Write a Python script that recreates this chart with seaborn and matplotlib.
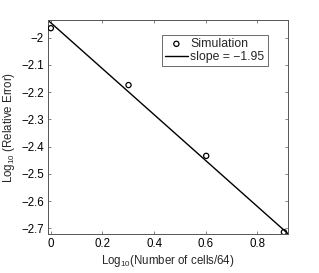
import numpy as np
import pandas as pd
import matplotlib
matplotlib.use('Agg')
import matplotlib.pyplot as plt
import seaborn as sns

# data
log_cells = [0.0, 0.30103, 0.60206, 0.90309]
log_err = [-1.965, -2.174, -2.434, -2.714]
fit_x = [-0.011, 0.919]
fit_y = [-1.936, -2.720]
slope_label = 'slope = \u22121.95'

sns.set_style('ticks')
plt.rcParams['font.family'] = ['Liberation Sans', 'DejaVu Sans']
plt.rcParams['mathtext.fontset'] = 'custom'
plt.rcParams['mathtext.rm'] = 'Liberation Sans'
plt.rcParams['mathtext.it'] = 'Liberation Sans'
plt.rcParams['font.size'] = 8.3
plt.rcParams['axes.unicode_minus'] = True

fig = plt.figure(figsize=(3.19, 2.73), dpi=100)
ax = fig.add_axes([48 / 319, 1 - 234 / 273, 240 / 319, 214 / 273])

pts = pd.DataFrame({'x': log_cells, 'y': log_err})
fit = pd.DataFrame({'x': fit_x, 'y': fit_y})

sns.scatterplot(data=pts, x='x', y='y', ax=ax, marker='o', s=14,
                facecolors='none', edgecolor='black', linewidth=0.9,
                label='Simulation', zorder=3)
sns.lineplot(data=fit, x='x', y='y', ax=ax, color='black', linewidth=1.0,
             label=slope_label)

ax.set_xlim(-0.011, 0.919)
ax.set_ylim(-2.721, -1.935)
ax.set_xticks([0, 0.2, 0.4, 0.6, 0.8])
ax.set_xticklabels(['0', '0.2', '0.4', '0.6', '0.8'])
ax.set_yticks([-2.7, -2.6, -2.5, -2.4, -2.3, -2.2, -2.1, -2.0])
ax.set_yticklabels(['\u22122.7', '\u22122.6', '\u22122.5', '\u22122.4',
                    '\u22122.3', '\u22122.2', '\u22122.1', '\u22122'])
ax.tick_params(direction='in', length=2.5, width=0.5, colors='#555555',
               labelcolor='black', labelsize=8.3, top=True, right=True, pad=3)
for sp in ax.spines.values():
    sp.set_linewidth(0.7)
    sp.set_color('#555555')

ax.set_xlabel('Log$_{10}$(Number of cells/64)', fontsize=8.3, labelpad=2)
ax.set_ylabel('Log$_{10}$ (Relative Error)', fontsize=8.3, labelpad=3)

leg = ax.legend(loc='upper right', bbox_to_anchor=(0.915, 0.93), fontsize=8.8,
                frameon=True, fancybox=False, handlelength=1.9,
                handletextpad=0.2, borderpad=0.25, labelspacing=0.1,
                borderaxespad=0)
leg.get_frame().set_edgecolor('#444444')
leg.get_frame().set_linewidth(0.7)

fig.savefig('out.png', dpi=100)
